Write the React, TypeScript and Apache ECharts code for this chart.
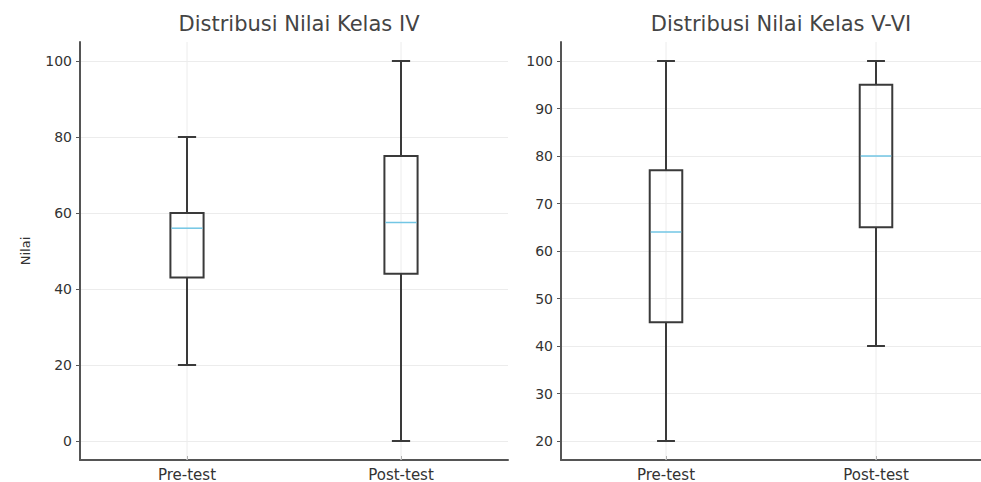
import React, { useEffect, useRef } from "react";
import * as echarts from "echarts";

const categories = ["Pre-test", "Post-test"];
// [low, q1, median, q3, high]
const kelasIV = [
  [20, 43, 56, 60, 80],
  [0, 44, 57.5, 75, 100],
];
const kelasVVI = [
  [20, 45, 64, 77, 100],
  [40, 65, 80, 95, 100],
];
const ticksIV = [0, 20, 40, 60, 80, 100];
const ticksVVI = [20, 30, 40, 50, 60, 70, 80, 90, 100];
const titles = ["Distribusi Nilai Kelas IV", "Distribusi Nilai Kelas V-VI"];

const FONT = "DejaVu Sans";
const BOX = "#3a3a3a";
const MED = "#72c6e4";

function renderBox(params: any, api: any) {
  const x = api.value(0);
  const low = api.coord([x, api.value(1)]);
  const q1 = api.coord([x, api.value(2)]);
  const med = api.coord([x, api.value(3)]);
  const q3 = api.coord([x, api.value(4)]);
  const high = api.coord([x, api.value(5)]);
  const band = api.size([1, 0])[0];
  const bw = band * 0.155;
  const cw = bw * 0.55;
  const cx = low[0];
  const cs = params.coordSys;
  const ls = { stroke: BOX, lineWidth: 2, fill: "none" };
  return {
    type: "group",
    children: [
      { type: "line", shape: { x1: cx, y1: cs.y, x2: cx, y2: cs.y + cs.height }, style: { stroke: "#ececec", lineWidth: 1 }, z2: 0 },
      { type: "line", shape: { x1: cx, y1: q3[1], x2: cx, y2: high[1] }, style: ls },
      { type: "line", shape: { x1: cx, y1: q1[1], x2: cx, y2: low[1] }, style: ls },
      { type: "line", shape: { x1: cx - cw / 2, y1: high[1], x2: cx + cw / 2, y2: high[1] }, style: ls },
      { type: "line", shape: { x1: cx - cw / 2, y1: low[1], x2: cx + cw / 2, y2: low[1] }, style: ls },
      { type: "rect", shape: { x: cx - bw / 2, y: q3[1], width: bw, height: q1[1] - q3[1] }, style: { stroke: BOX, lineWidth: 2, fill: "rgba(0,0,0,0)" } },
      { type: "line", shape: { x1: cx - bw / 2 + 1, y1: med[1], x2: cx + bw / 2 - 1, y2: med[1] }, style: { stroke: MED, lineWidth: 1.5 } },
    ],
  };
}

export default function App() {
  const ref = useRef<HTMLDivElement>(null);
  useEffect(() => {
    document.body.style.margin = "0";
    document.body.style.overflow = "hidden";
    document.documentElement.style.overflow = "hidden";
    const chart = echarts.init(ref.current!, null, { renderer: "svg" });
    const yAxisBase = (min: number, max: number, ticks: number[], gi: number) => ({
      type: "value",
      gridIndex: gi,
      min,
      max,
      axisLine: { show: true, onZero: false, lineStyle: { color: "#555", width: 2 } },
      axisTick: { show: true, length: 4, customValues: ticks, lineStyle: { color: "#555" } },
      axisLabel: { customValues: ticks, color: "#333", fontSize: 14, fontFamily: FONT, margin: 8 },
      splitLine: { show: true, lineStyle: { color: "#ececec", width: 1 } },
    });
    const xAxisBase = (gi: number) => ({
      type: "category",
      gridIndex: gi,
      data: categories,
      axisLine: { show: true, onZero: false, lineStyle: { color: "#555", width: 2 } },
      axisTick: { show: true, inside: true, alignWithLabel: true, length: 4, lineStyle: { color: "#777" } },
      axisLabel: { color: "#333", fontSize: 15, fontFamily: FONT, margin: 7 },
      splitLine: { show: false },
    });
    const titleStyle = { fontFamily: FONT, fontSize: 21, fontWeight: "normal", color: "#444" };
    chart.setOption({
      animation: false,
      title: [
        { text: titles[0], left: 294, top: 8, textAlign: "center", textStyle: titleStyle },
        { text: titles[1], left: 776, top: 8, textAlign: "center", textStyle: titleStyle },
      ],
      grid: [
        { left: 80, top: 42, width: 428, height: 423, containLabel: false },
        { left: 561, top: 42, width: 430, height: 423, containLabel: false },
      ],
      xAxis: [xAxisBase(0), xAxisBase(1)],
      yAxis: [
        { ...yAxisBase(-5, 105, ticksIV, 0), name: "Nilai", nameLocation: "middle", nameGap: 48, nameRotate: 90, nameTextStyle: { fontFamily: FONT, fontSize: 13, color: "#333" } },
        yAxisBase(16, 104, ticksVVI, 1),
      ],
      series: [
        {
          type: "custom",
          xAxisIndex: 0,
          yAxisIndex: 0,
          renderItem: renderBox,
          data: kelasIV.map((d, i) => [i, ...d]),
          encode: { x: 0, y: [1, 2, 3, 4, 5] },
        },
        {
          type: "custom",
          xAxisIndex: 1,
          yAxisIndex: 1,
          renderItem: renderBox,
          data: kelasVVI.map((d, i) => [i, ...d]),
          encode: { x: 0, y: [1, 2, 3, 4, 5] },
        },
      ],
    });
    return () => chart.dispose();
  }, []);
  return <div ref={ref} style={{ width: 981, height: 482, overflow: "hidden" }} />;
}
